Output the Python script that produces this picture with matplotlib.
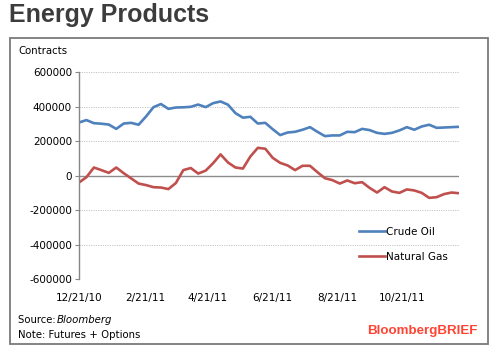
import matplotlib
matplotlib.use("Agg")
import matplotlib.pyplot as plt
import matplotlib.dates as mdates
from matplotlib.patches import Rectangle
import numpy as np
import datetime as dt

# weekly positions (thousands of contracts)
start = dt.date(2010, 12, 21)
crude_oil = [309, 323, 305, 302, 297, 272, 303, 307, 296, 344,
             398, 416, 388, 396, 397, 400, 413, 398, 421, 431,
             412, 363, 337, 342, 303, 307, 270, 236, 251, 255,
             267, 282, 255, 230, 234, 234, 255, 253, 272, 265,
             249, 243, 249, 263, 282, 267, 286, 296, 278, 280,
             282, 284]
natural_gas = [-39, -8, 48, 33, 17, 48, 15, -15, -45, -54,
               -66, -68, -77, -42, 33, 45, 13, 30, 73, 124,
               77, 48, 42, 112, 162, 157, 104, 75, 60, 33,
               58, 58, 21, -14, -25, -45, -27, -43, -37, -70,
               -97, -66, -91, -99, -79, -85, -99, -128, -124, -106,
               -97, -101]
dates = [start + dt.timedelta(weeks=i) for i in range(len(crude_oil))]
tick_dates = [dt.date(2010, 12, 21), dt.date(2011, 2, 21), dt.date(2011, 4, 21),
              dt.date(2011, 6, 21), dt.date(2011, 8, 21), dt.date(2011, 10, 21)]
y_ticks = [-600000, -400000, -200000, 0, 200000, 400000, 600000]

plt.rcParams['font.family'] = ['DejaVu Sans']
W, H = 493, 355
fig = plt.figure(figsize=(W / 100, H / 100), dpi=100)

# outer frame
fig.patches.append(Rectangle((10 / W, 1 - 344 / H), 478 / W, 306 / H,
                             transform=fig.transFigure, fill=False,
                             edgecolor='#7a7a7a', linewidth=1.3))

fig.text(9 / W, 1 - 15 / H, 'Energy Products', fontsize=18, fontweight='bold',
         color='#3c3c3c', family='Liberation Sans', va='center', ha='left')
fig.text(18 / W, 1 - 51 / H, 'Contracts', fontsize=7.3, va='center', ha='left')

ax = fig.add_axes([79 / W, 1 - 279.3 / H, 380 / W, 207 / H])
ax.plot(dates, np.array(crude_oil) * 1000, color='#4f81bd', lw=1.9, label='Crude Oil')
ax.plot(dates, np.array(natural_gas) * 1000, color='#c0504d', lw=1.9, label='Natural Gas')

ax.set_xlim(dates[0], dates[-1])
ax.set_ylim(-600000, 600000)
ax.set_yticks(y_ticks)
ax.set_yticklabels([str(v) for v in y_ticks])
ax.set_xticks(tick_dates)
ax.xaxis.set_major_formatter(mdates.DateFormatter('%-m/%d/%y'))
ax.tick_params(axis='y', length=3, color='#868686', labelsize=7.5, pad=2)
ax.tick_params(axis='x', length=0, labelsize=7.5, pad=10)

for v in y_ticks:
    if v != 0:
        ax.axhline(v, color='#c4c4c4', lw=0.7, ls=(0, (1.2, 1.2)), zorder=0)
ax.axhline(0, color='#8c8c8c', lw=1.0, zorder=1)

for s in ['top', 'right', 'bottom']:
    ax.spines[s].set_visible(False)
ax.spines['left'].set_color('#868686')
ax.spines['left'].set_linewidth(1.0)

leg = ax.legend(loc='upper left', bbox_to_anchor=(280 / 380, 1 - (227 - 72.3) / 207),
                frameon=False, fontsize=7.5, handlelength=2.5, handletextpad=0.05,
                labelspacing=1.45, borderaxespad=0, borderpad=0)

fig.text(18 / W, 1 - 320 / H, 'Source: ', fontsize=7.3, va='center', ha='left')
fig.text(57 / W, 1 - 320 / H, 'Bloomberg', fontsize=7.3, style='italic',
         va='center', ha='left')
fig.text(18 / W, 1 - 335 / H, 'Note: Futures + Options', fontsize=7.3,
         va='center', ha='left')
fig.text(477 / W, 1 - 331 / H, 'BloombergBRIEF', fontsize=9.6, fontweight='bold',
         color='#ff4433', family='Liberation Sans', va='center', ha='right')

fig.savefig('out.png', dpi=100)
